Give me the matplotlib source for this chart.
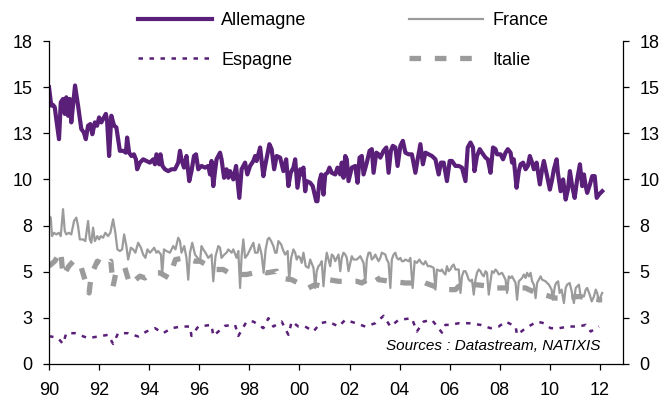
#!/usr/bin/env python3
import matplotlib
matplotlib.use("Agg")
import matplotlib.pyplot as plt

# values (decimal years, level)
ger_years = [1990.00, 1990.09, 1990.16, 1990.23, 1990.29, 1990.40, 1990.47, 1990.56, 1990.63, 1990.69,
             1990.76, 1990.83, 1990.89, 1991.04, 1991.16, 1991.29, 1991.39, 1991.47, 1991.56, 1991.65,
             1991.73, 1991.83, 1991.92, 1992.00, 1992.09, 1992.16, 1992.27, 1992.32, 1992.40, 1992.49,
             1992.60, 1992.69, 1992.83, 1992.96, 1993.07, 1993.12, 1993.20, 1993.29, 1993.39, 1993.47,
             1993.52, 1993.63, 1993.76, 1993.89, 1994.03, 1994.16, 1994.23, 1994.29, 1994.40, 1994.45,
             1994.53, 1994.63, 1994.76, 1994.89, 1995.03, 1995.16, 1995.23, 1995.29, 1995.39, 1995.49,
             1995.60, 1995.69, 1995.79, 1995.87, 1995.96, 1996.09, 1996.23, 1996.36, 1996.43, 1996.49,
             1996.56, 1996.63, 1996.69, 1996.83, 1996.89, 1996.99, 1997.09, 1997.16, 1997.23, 1997.36,
             1997.47, 1997.60, 1997.69, 1997.83, 1997.92, 1998.03, 1998.16, 1998.23, 1998.29, 1998.43,
             1998.56, 1998.63, 1998.72, 1998.80, 1998.89, 1998.99, 1999.09, 1999.23, 1999.36, 1999.47,
             1999.56, 1999.65, 1999.76, 1999.83, 1999.92, 2000.03, 2000.09, 2000.16, 2000.23, 2000.29,
             2000.43, 2000.53, 2000.67, 2000.72, 2000.80, 2000.87, 2000.96, 2001.03, 2001.12, 2001.20,
             2001.29, 2001.43, 2001.52, 2001.63, 2001.69, 2001.76, 2001.83, 2001.89, 2001.96, 2002.09,
             2002.23, 2002.32, 2002.40, 2002.49, 2002.56, 2002.69, 2002.80, 2002.89, 2002.96, 2003.07,
             2003.16, 2003.23, 2003.36, 2003.47, 2003.56, 2003.65, 2003.73, 2003.83, 2003.92, 2004.03,
             2004.13, 2004.23, 2004.36, 2004.49, 2004.63, 2004.72, 2004.83, 2004.93, 2005.03, 2005.16,
             2005.29, 2005.43, 2005.56, 2005.65, 2005.76, 2005.89, 2006.00, 2006.09, 2006.23, 2006.36,
             2006.49, 2006.63, 2006.72, 2006.83, 2006.93, 2006.99, 2007.09, 2007.20, 2007.29, 2007.43,
             2007.52, 2007.63, 2007.73, 2007.83, 2007.89, 2008.03, 2008.13, 2008.23, 2008.32, 2008.43,
             2008.49, 2008.56, 2008.67, 2008.76, 2008.83, 2008.93, 2009.03, 2009.12, 2009.20, 2009.29,
             2009.36, 2009.47, 2009.52, 2009.60, 2009.69, 2009.76, 2009.89, 2010.00, 2010.09, 2010.16,
             2010.27, 2010.32, 2010.43, 2010.53, 2010.63, 2010.72, 2010.80, 2010.89, 2010.99, 2011.09,
             2011.20, 2011.29, 2011.36, 2011.43, 2011.49, 2011.60, 2011.69, 2011.79, 2011.87, 2011.96,
             2012.09]
ger_vals = [15.00, 14.00, 14.04, 13.91, 13.27, 12.18, 14.18, 14.36, 13.55, 14.45,
            13.45, 14.36, 13.09, 15.09, 14.00, 12.73, 12.55, 12.18, 12.91, 13.00,
            12.45, 13.09, 12.91, 13.36, 13.09, 13.27, 13.55, 13.18, 11.27, 13.45,
            12.91, 12.82, 11.55, 11.55, 11.45, 12.27, 11.45, 11.27, 11.36, 11.09,
            10.55, 10.91, 11.09, 11.00, 10.91, 11.09, 10.82, 11.36, 10.82, 11.36,
            10.73, 10.55, 10.45, 10.55, 10.55, 10.91, 11.55, 11.09, 10.64, 11.27,
            9.91, 10.45, 11.27, 11.36, 10.55, 10.73, 10.64, 10.73, 10.27, 11.00,
            9.64, 10.45, 11.09, 11.45, 11.09, 10.09, 10.55, 10.09, 10.45, 10.00,
            10.73, 9.00, 10.55, 10.91, 10.27, 10.73, 11.00, 11.27, 11.00, 11.73,
            10.18, 10.73, 11.36, 11.91, 11.64, 10.55, 11.27, 11.18, 10.45, 11.09,
            9.64, 10.36, 10.64, 11.09, 9.55, 10.55, 10.27, 10.64, 9.36, 9.91,
            9.82, 9.64, 8.82, 8.82, 9.91, 10.27, 9.18, 10.27, 10.36, 10.64,
            10.36, 10.27, 10.64, 10.27, 10.91, 10.09, 11.27, 11.09, 9.91, 10.64,
            10.73, 9.82, 11.18, 11.27, 10.27, 10.91, 11.55, 11.64, 10.36, 11.45,
            11.36, 11.18, 11.55, 11.73, 10.36, 11.55, 11.82, 11.73, 10.73, 11.82,
            12.09, 11.45, 11.36, 11.36, 10.36, 11.09, 11.91, 10.82, 11.45, 11.36,
            11.27, 11.09, 10.27, 10.91, 10.91, 9.91, 11.00, 11.00, 10.73, 10.73,
            10.64, 9.91, 11.73, 12.00, 11.73, 10.45, 11.27, 11.64, 11.45, 11.18,
            11.09, 10.36, 11.73, 11.64, 11.36, 11.36, 11.09, 11.45, 11.64, 11.45,
            10.91, 11.09, 9.55, 10.45, 10.82, 10.91, 10.55, 10.73, 11.27, 10.91,
            10.55, 10.91, 10.45, 9.73, 10.55, 11.00, 10.18, 9.45, 10.00, 10.55,
            11.09, 10.36, 9.36, 10.00, 8.91, 9.45, 10.45, 9.64, 9.00, 10.00,
            10.82, 9.64, 10.27, 9.64, 9.27, 9.73, 10.18, 10.18, 9.00, 9.18,
            9.36]

fra_years = [1990.00, 1990.07, 1990.12, 1990.20, 1990.29, 1990.39, 1990.47, 1990.56, 1990.63, 1990.69,
             1990.79, 1990.89, 1991.00, 1991.09, 1991.16, 1991.23, 1991.36, 1991.45, 1991.56, 1991.63,
             1991.69, 1991.76, 1991.83, 1991.93, 1992.00, 1992.07, 1992.16, 1992.25, 1992.36, 1992.45,
             1992.56, 1992.65, 1992.73, 1992.83, 1992.92, 1993.00, 1993.09, 1993.16, 1993.27, 1993.36,
             1993.45, 1993.56, 1993.67, 1993.76, 1993.85, 1993.93, 1994.03, 1994.09, 1994.20, 1994.29,
             1994.36, 1994.47, 1994.52, 1994.59, 1994.69, 1994.83, 1994.96, 1995.05, 1995.16, 1995.23,
             1995.29, 1995.40, 1995.49, 1995.56, 1995.63, 1995.72, 1995.83, 1995.93, 1996.03, 1996.09,
             1996.16, 1996.25, 1996.36, 1996.49, 1996.56, 1996.65, 1996.76, 1996.83, 1996.89, 1997.00,
             1997.09, 1997.16, 1997.29, 1997.36, 1997.49, 1997.56, 1997.63, 1997.69, 1997.76, 1997.83,
             1997.93, 1998.03, 1998.09, 1998.16, 1998.23, 1998.33, 1998.39, 1998.49, 1998.57, 1998.65,
             1998.73, 1998.79, 1998.87, 1998.96, 1999.03, 1999.09, 1999.16, 1999.27, 1999.36, 1999.43,
             1999.53, 1999.59, 1999.67, 1999.76, 1999.83, 1999.89, 1999.96, 2000.03, 2000.09, 2000.16,
             2000.25, 2000.36, 2000.43, 2000.56, 2000.63, 2000.69, 2000.76, 2000.83, 2000.89, 2000.96,
             2001.03, 2001.09, 2001.16, 2001.23, 2001.29, 2001.36, 2001.43, 2001.56, 2001.63, 2001.69,
             2001.76, 2001.83, 2001.89, 2001.96, 2002.03, 2002.09, 2002.16, 2002.29, 2002.36, 2002.43,
             2002.56, 2002.63, 2002.69, 2002.76, 2002.83, 2002.89, 2002.96, 2003.03, 2003.09, 2003.16,
             2003.23, 2003.29, 2003.43, 2003.49, 2003.56, 2003.63, 2003.69, 2003.76, 2003.83, 2003.89,
             2003.96, 2004.03, 2004.09, 2004.16, 2004.23, 2004.36, 2004.43, 2004.52, 2004.60, 2004.69,
             2004.79, 2004.87, 2004.96, 2005.03, 2005.13, 2005.23, 2005.36, 2005.43, 2005.49, 2005.63,
             2005.69, 2005.76, 2005.83, 2005.89, 2005.96, 2006.03, 2006.09, 2006.16, 2006.23, 2006.36,
             2006.43, 2006.49, 2006.56, 2006.63, 2006.69, 2006.76, 2006.83, 2006.89, 2006.96, 2007.03,
             2007.09, 2007.16, 2007.23, 2007.29, 2007.36, 2007.43, 2007.49, 2007.56, 2007.63, 2007.69,
             2007.76, 2007.83, 2007.89, 2007.96, 2008.09, 2008.16, 2008.23, 2008.29, 2008.36, 2008.43,
             2008.49, 2008.63, 2008.69, 2008.76, 2008.89, 2008.96, 2009.03, 2009.09, 2009.16, 2009.23,
             2009.29, 2009.36, 2009.43, 2009.49, 2009.56, 2009.63, 2009.69, 2009.83, 2009.89, 2009.96,
             2010.07, 2010.12, 2010.20, 2010.25, 2010.33, 2010.39, 2010.47, 2010.56, 2010.63, 2010.69,
             2010.79, 2010.87, 2010.96, 2011.03, 2011.16, 2011.23, 2011.36, 2011.43, 2011.49, 2011.59,
             2011.67, 2011.76, 2011.83, 2011.89, 2011.96, 2012.03, 2012.09]
fra_vals = [8.02, 7.93, 6.93, 7.11, 7.02, 7.11, 6.93, 8.39, 7.21, 7.02,
            7.11, 7.02, 7.75, 7.93, 7.48, 6.75, 6.75, 6.66, 7.75, 6.75,
            6.57, 7.39, 6.66, 6.93, 6.75, 6.93, 6.84, 7.11, 6.93, 7.11,
            7.84, 7.11, 6.21, 6.12, 6.21, 7.02, 6.39, 5.66, 6.30, 6.21,
            6.03, 6.57, 6.30, 5.93, 5.75, 6.21, 6.03, 6.12, 6.30, 6.03,
            6.12, 5.93, 4.85, 6.21, 6.12, 6.03, 6.39, 6.21, 6.84, 6.66,
            6.03, 6.39, 5.75, 4.57, 6.03, 6.57, 5.93, 5.75, 5.57, 6.39,
            6.21, 6.03, 5.75, 5.93, 4.48, 5.84, 6.39, 6.30, 5.75, 5.93,
            6.03, 6.21, 6.03, 6.21, 5.75, 6.12, 4.12, 5.84, 6.75, 5.75,
            5.93, 6.21, 6.39, 6.57, 6.03, 6.03, 6.48, 5.93, 4.94, 6.21,
            6.75, 6.84, 6.66, 6.39, 6.03, 6.03, 6.66, 6.48, 6.12, 5.93,
            6.12, 4.57, 5.75, 6.21, 6.03, 5.66, 5.84, 5.75, 5.48, 6.03,
            5.30, 5.21, 5.66, 5.21, 4.12, 5.03, 5.30, 5.39, 5.57, 4.21,
            5.39, 6.03, 5.66, 5.30, 5.93, 5.84, 5.57, 5.93, 5.03, 5.75,
            6.03, 5.93, 5.75, 5.03, 5.48, 5.84, 5.66, 5.66, 5.75, 5.84,
            5.48, 4.39, 5.66, 6.03, 6.03, 5.66, 5.75, 5.93, 5.75, 5.57,
            5.75, 6.03, 5.93, 5.66, 5.48, 4.12, 5.66, 5.93, 6.03, 5.75,
            5.66, 5.75, 5.57, 5.57, 5.66, 5.57, 5.75, 4.12, 5.57, 5.48,
            5.66, 5.48, 5.39, 5.57, 5.30, 5.30, 5.21, 4.03, 5.12, 5.03,
            5.12, 4.94, 4.85, 5.30, 5.03, 5.12, 5.30, 5.39, 5.12, 5.12,
            3.85, 4.75, 5.03, 5.03, 4.85, 4.57, 4.48, 4.57, 3.76, 4.57,
            4.94, 5.12, 5.03, 4.85, 4.75, 5.03, 4.94, 3.76, 4.48, 5.03,
            4.94, 5.12, 5.03, 4.85, 4.94, 4.75, 4.57, 3.85, 4.75, 4.66,
            4.75, 4.39, 3.48, 4.48, 4.66, 4.85, 4.66, 4.94, 4.75, 4.94,
            4.48, 4.30, 3.57, 4.39, 4.57, 4.75, 4.57, 4.48, 4.39, 4.30,
            4.03, 3.48, 4.21, 4.39, 4.48, 3.85, 4.03, 3.30, 4.12, 4.30,
            4.39, 3.94, 3.30, 4.12, 4.30, 3.66, 3.66, 4.03, 4.12, 3.76,
            3.39, 3.66, 4.03, 3.85, 3.39, 3.66, 3.85]

esp_years = [1990.00, 1990.09, 1990.36, 1990.56, 1990.69, 1991.03, 1991.56, 1991.96, 1992.36, 1992.56,
             1992.76, 1993.16, 1993.56, 1993.89, 1994.23, 1994.56, 1994.89, 1995.29, 1995.63, 1995.69,
             1995.96, 1996.49, 1996.56, 1997.03, 1997.43, 1997.56, 1997.89, 1998.16, 1998.56, 1998.76,
             1998.96, 1999.29, 1999.56, 1999.69, 1999.96, 2000.23, 2000.56, 2000.83, 2001.16, 2001.56,
             2001.83, 2002.16, 2002.63, 2003.03, 2003.36, 2003.63, 2003.96, 2004.49, 2004.69, 2004.96,
             2005.29, 2005.69, 2005.83, 2006.03, 2006.36, 2006.76, 2007.23, 2007.63, 2007.96, 2008.23,
             2008.63, 2008.69, 2009.03, 2009.49, 2009.76, 2010.03, 2010.36, 2010.76, 2011.16, 2011.43,
             2011.63, 2011.96]
esp_vals = [1.49, 1.49, 1.40, 1.09, 1.67, 1.67, 1.40, 1.49, 1.58, 1.09,
            1.67, 1.67, 1.49, 1.76, 1.94, 1.67, 1.94, 2.03, 2.03, 1.52,
            2.03, 2.12, 1.52, 2.07, 2.12, 1.52, 2.30, 2.30, 1.94, 2.48,
            2.03, 2.30, 1.58, 2.30, 2.03, 2.03, 1.76, 2.21, 2.30, 2.03,
            2.39, 2.25, 2.03, 2.21, 2.61, 2.03, 2.39, 2.48, 1.76, 2.30,
            2.39, 1.70, 2.12, 2.12, 2.21, 2.21, 2.12, 1.94, 2.03, 2.30,
            2.03, 1.58, 1.94, 2.30, 2.21, 1.94, 1.94, 2.03, 2.03, 2.12,
            1.76, 2.03]

ita_years = [1990.00, 1990.23, 1990.47, 1990.56, 1990.79, 1991.03, 1991.29, 1991.60, 1991.69, 1991.93,
             1992.29, 1992.47, 1992.56, 1992.69, 1993.03, 1993.23, 1993.63, 1993.83, 1994.09, 1994.43,
             1994.79, 1995.05, 1995.43, 1995.83, 1996.03, 1996.63, 1996.96, 1997.29, 1997.63, 1997.89,
             1998.49, 1998.69, 1999.09, 1999.19, 1999.69, 1999.89, 2000.09, 2000.36, 2000.63, 2000.89,
             2001.16, 2001.56, 2002.29, 2002.49, 2003.03, 2003.16, 2003.63, 2004.23, 2004.49, 2004.89,
             2005.03, 2005.56, 2005.69, 2006.23, 2006.36, 2006.63, 2007.03, 2007.63, 2007.76, 2008.36,
             2009.03, 2009.16, 2009.63, 2009.76, 2010.23, 2010.43, 2011.16, 2011.96, 2012.09]
ita_vals = [5.30, 5.57, 6.12, 4.76, 5.30, 5.66, 5.21, 3.85, 4.85, 5.57,
            5.30, 5.57, 4.21, 5.08, 5.21, 4.30, 4.76, 4.66, 4.94, 4.94,
            4.66, 5.66, 5.75, 5.57, 5.57, 5.12, 5.12, 4.85, 4.85, 4.85,
            5.03, 4.94, 5.03, 4.66, 4.57, 4.43, 4.39, 4.12, 4.30, 4.21,
            4.57, 4.48, 4.48, 4.39, 4.85, 4.57, 4.48, 4.39, 4.39, 4.48,
            4.39, 4.12, 4.03, 4.03, 4.21, 4.12, 4.30, 4.21, 4.12, 4.12,
            4.12, 4.03, 3.76, 3.76, 3.57, 3.57, 3.66, 3.48, 3.48]

x_ticks = list(range(1990, 2013, 2))
x_labels = ["90", "92", "94", "96", "98", "00", "02", "04", "06", "08", "10", "12"]
y_ticks = [0, 2.5, 5, 7.5, 10, 12.5, 15, 17.5]
y_labels = ["0", "3", "5", "8", "10", "13", "15", "18"]

purple = "#5a1f78"
grey = "#9b9b9b"

plt.rcParams["font.family"] = ["Liberation Sans", "DejaVu Sans"]

fig = plt.figure(figsize=(6.67, 4.04), dpi=100)
ax = fig.add_axes([49 / 667, 40 / 404, 574 / 667, 323 / 404])

l_fra, = ax.plot(fra_years, fra_vals, color=grey, lw=1.6, label="France")
l_ita, = ax.plot(ita_years, ita_vals, color=grey, lw=3.8, dashes=(2.2, 2.6), label="Italie")
l_esp, = ax.plot(esp_years, esp_vals, color=purple, lw=1.8, dashes=(1.8, 2.6), label="Espagne")
l_ger, = ax.plot(ger_years, ger_vals, color=purple, lw=3.0, label="Allemagne")

ax.set_xlim(1990, 2012.92)
ax.set_ylim(0, 17.5)
ax.set_xticks(x_ticks)
ax.set_xticklabels(x_labels)
ax.set_yticks(y_ticks)
ax.set_yticklabels(y_labels)

ax.spines["top"].set_visible(False)
for s in ["left", "right", "bottom"]:
    ax.spines[s].set_linewidth(0.9)

ax.tick_params(axis="both", direction="out", length=4, width=0.9, labelsize=13)
ax.tick_params(axis="y", right=True, labelright=True, pad=8)
ax.tick_params(axis="x", pad=9)

ax.text(0.96, 0.055, "Sources : Datastream, NATIXIS", transform=ax.transAxes,
        ha="right", va="center", fontsize=11, style="italic")

fig.legend(handles=[l_ger, l_esp, l_fra, l_ita], ncol=2, loc="upper left",
           bbox_to_anchor=(138 / 667, 1 - 12 / 404), frameon=False, fontsize=13,
           handlelength=4.1, handletextpad=0.5, columnspacing=5.7, labelspacing=1.25,
           borderpad=0, borderaxespad=0)

fig.savefig("out.png", dpi=100)
